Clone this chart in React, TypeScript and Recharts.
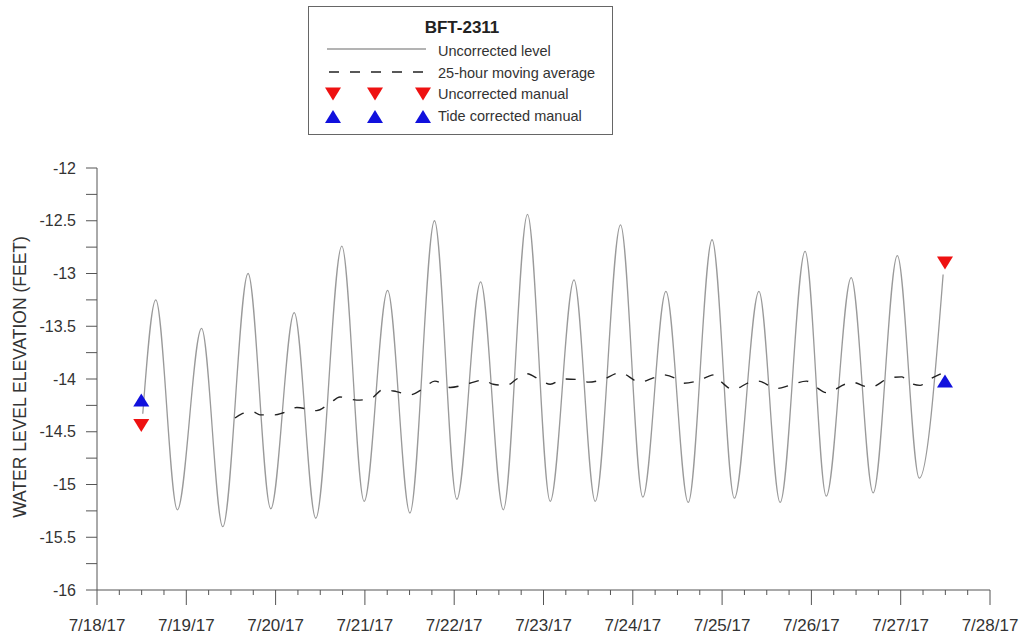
import React from 'react'
import { ComposedChart, Line, Scatter, XAxis, YAxis } from 'recharts'

// hours after 7/18/17 00:00 and water level (ft), read at the tidal highs / lows
const levelHours = [12.3, 15.8, 21.6, 28.1, 33.8, 40.6, 46.7, 53.0, 58.8, 65.8, 71.8, 78.1, 84.1, 90.7, 96.7, 103.1, 109.2, 115.7, 121.8, 128.2, 133.9, 140.7, 146.7, 152.9, 158.9, 165.3, 171.3, 177.9, 183.6, 190.3, 196.0, 202.7, 208.6, 215.1, 221.0, 227.4]
const levelValues = [-14.33, -13.25, -15.24, -13.52, -15.4, -13.0, -15.23, -13.37, -15.32, -12.74, -15.16, -13.16, -15.27, -12.5, -15.14, -13.08, -15.24, -12.44, -15.16, -13.06, -15.16, -12.54, -15.12, -13.17, -15.17, -12.68, -15.13, -13.17, -15.17, -12.79, -15.11, -13.04, -15.08, -12.83, -14.94, -13.01]

// 25-hour moving average
const avgHours = [37.1, 38.9, 41.9, 43.8, 47.8, 50.1, 53.7, 59.0, 62.6, 65.3, 69.8, 73.4, 76.9, 80.5, 84.1, 87.7, 90.8, 94.9, 100.2, 103.8, 106.5, 110.1, 112.8, 115.5, 119.1, 121.8, 125.3, 130.7, 132.0, 135.6, 140.6, 145.9, 149.5, 152.2, 155.8, 157.6, 161.2, 166.1, 167.9, 171.0, 175.5, 177.7, 182.7, 186.2, 190.7, 193.0, 196.1, 201.0, 202.8, 207.8, 213.1, 216.3, 218.1, 221.2, 223.9, 226.8]
const avgValues = [-14.37, -14.33, -14.31, -14.34, -14.34, -14.32, -14.27, -14.3, -14.23, -14.17, -14.2, -14.19, -14.1, -14.12, -14.15, -14.09, -14.02, -14.08, -14.04, -14.01, -14.05, -14.06, -14.0, -13.95, -14.01, -14.05, -14.0, -14.01, -14.03, -14.01, -13.94, -14.03, -13.99, -13.96, -14.0, -14.04, -14.02, -13.96, -14.03, -14.1, -14.03, -14.02, -14.09, -14.06, -14.02, -14.07, -14.13, -14.05, -14.03, -14.08, -13.99, -13.98, -14.03, -14.06, -14.0, -13.95]

// manual readings
const manualHours = [11.9, 227.9]
const uncorrectedManual = [-14.44, -12.9]
const tideCorrectedManual = [-14.2, -14.02]

const dayLabels = ['7/18/17', '7/19/17', '7/20/17', '7/21/17', '7/22/17', '7/23/17', '7/24/17', '7/25/17', '7/26/17', '7/27/17', '7/28/17']
const xTicks = Array.from({ length: 41 }, (_, i) => i * 6)
const yTicks = Array.from({ length: 17 }, (_, i) => -16 + i * 0.25)

const levelData = levelHours.map((t, i) => ({ t, v: levelValues[i] }))
const avgData = avgHours.map((t, i) => ({ t, v: avgValues[i] }))
const redData = manualHours.map((t, i) => ({ t, v: uncorrectedManual[i] }))
const blueData = manualHours.map((t, i) => ({ t, v: tideCorrectedManual[i] }))

const FONT = '"Liberation Sans", Arial, sans-serif'
const AXIS = '#555'
const RED = '#ee1111'
const BLUE = '#1111dd'

const XTick = (props: any) => {
    const { x, y, payload } = props
    const major = payload.value % 24 === 0
    return (
        <g>
            <line x1={x} x2={x} y1={y} y2={y + (major ? 15 : 5)} stroke={AXIS} />
            {major && (
                <text x={x} y={y + 41} textAnchor="middle" fontSize={17} fill="#333" fontFamily={FONT}>
                    {dayLabels[payload.value / 24]}
                </text>
            )}
        </g>
    )
}

const YTick = (props: any) => {
    const { x, y, payload } = props
    const major = Math.abs(payload.value * 2 - Math.round(payload.value * 2)) < 1e-6
    return (
        <g>
            <line x1={x - 11} x2={x} y1={y} y2={y} stroke={AXIS} />
            {major && (
                <text x={x - 21} y={y + 5.5} textAnchor="end" fontSize={16} fill="#333" fontFamily={FONT}>
                    {String(payload.value)}
                </text>
            )}
        </g>
    )
}

const YTitle = (props: any) => {
    const { viewBox } = props
    const cx = viewBox.x + 26
    const cy = viewBox.y + viewBox.height / 2 - 2
    return (
        <text x={cx} y={cy} transform={`rotate(-90 ${cx} ${cy})`} textAnchor="middle" fontSize={17.5} fill="#333" fontFamily={FONT}>
            WATER LEVEL ELEVATION (FEET)
        </text>
    )
}

const downTri = (p: any) => (
    <polygon points={`${p.cx - 8},${p.cy - 6.5} ${p.cx + 8},${p.cy - 6.5} ${p.cx},${p.cy + 6.5}`} fill={RED} />
)
const upTri = (p: any) => (
    <polygon points={`${p.cx - 8},${p.cy + 6.5} ${p.cx + 8},${p.cy + 6.5} ${p.cx},${p.cy - 6.5}`} fill={BLUE} />
)

function LegendBox() {
    const marks = [333, 375, 423]
    return (
        <div style={{ position: 'absolute', left: 308, top: 6, width: 303, height: 127, border: '1px solid #666', background: '#fff', fontFamily: FONT }}>
            <svg width={303} height={127} style={{ position: 'absolute', left: 0, top: 0 }}>
                <text x={153} y={26} textAnchor="middle" fontSize={17} fontWeight="bold" fill="#222">BFT-2311</text>
                <line x1={18} x2={117} y1={42} y2={42} stroke="#9a9a9a" strokeWidth={1.3} />
                <text x={129} y={49} fontSize={14.5} fill="#333">Uncorrected level</text>
                <line x1={20} x2={116} y1={65} y2={65} stroke="#222" strokeWidth={1.4} strokeDasharray="10 11" />
                <text x={129} y={70.5} fontSize={14.5} fill="#333">25-hour moving average</text>
                {marks.map(m => (
                    <polygon key={'r' + m} points={`${m - 309 - 8},${80.5} ${m - 309 + 8},${80.5} ${m - 309},${93.5}`} fill={RED} />
                ))}
                <text x={129} y={92} fontSize={14.5} fill="#333">Uncorrected manual</text>
                {marks.map(m => (
                    <polygon key={'b' + m} points={`${m - 309 - 8},${116} ${m - 309 + 8},${116} ${m - 309},${103}`} fill={BLUE} />
                ))}
                <text x={129} y={114} fontSize={14.5} fill="#333">Tide corrected manual</text>
            </svg>
        </div>
    )
}

export default function App() {
    return (
        <div style={{ position: 'absolute', left: 0, top: 0, width: 1023, height: 639, background: '#fff', fontFamily: FONT }}>
            <ComposedChart width={1023} height={639} margin={{ top: 168, right: 33, bottom: 9, left: 0 }}>
                <XAxis
                    type="number"
                    dataKey="t"
                    domain={[0, 240]}
                    ticks={xTicks}
                    interval={0}
                    tickSize={0}
                    tickMargin={0}
                    tickLine={false}
                    height={40}
                    stroke={AXIS}
                    tick={XTick}
                    allowDataOverflow
                />
                <YAxis
                    type="number"
                    dataKey="v"
                    domain={[-16, -12]}
                    ticks={yTicks}
                    interval={0}
                    tickSize={0}
                    tickMargin={0}
                    tickLine={false}
                    width={97}
                    stroke={AXIS}
                    tick={YTick}
                    label={YTitle}
                    allowDataOverflow
                />
                <Line data={levelData} dataKey="v" type="monotone" stroke="#9a9a9a" strokeWidth={1.3} dot={false} activeDot={false} isAnimationActive={false} />
                <Line data={avgData} dataKey="v" type="monotone" stroke="#222" strokeWidth={1.4} strokeDasharray="10 11" dot={false} activeDot={false} isAnimationActive={false} />
                <Scatter data={redData} dataKey="v" shape={downTri} isAnimationActive={false} />
                <Scatter data={blueData} dataKey="v" shape={upTri} isAnimationActive={false} />
            </ComposedChart>
            <LegendBox />
        </div>
    )
}
